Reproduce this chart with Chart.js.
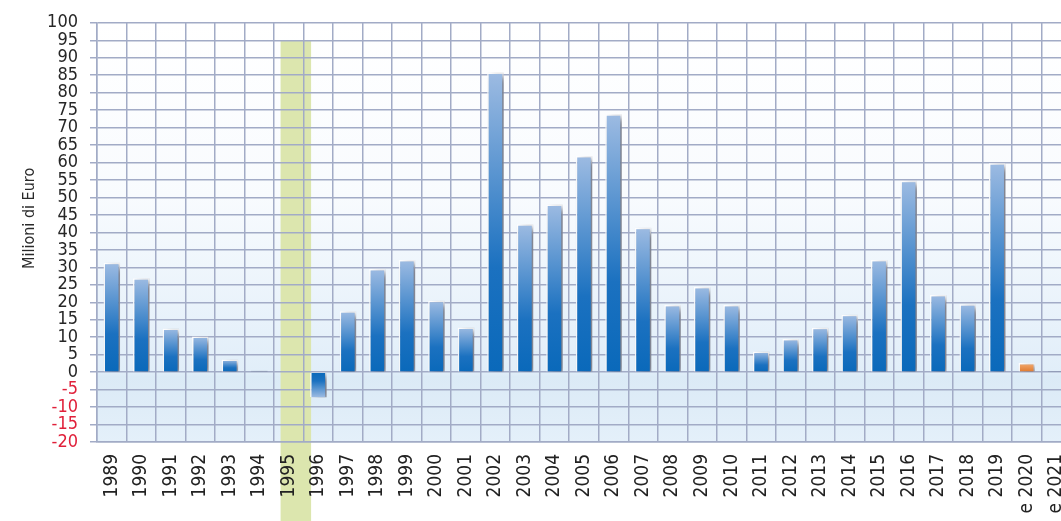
<!DOCTYPE html>
<html lang="it">
<head>
<meta charset="utf-8">
<title>Milioni di Euro 1989-2021</title>
<script src="https://cdn.jsdelivr.net/npm/chart.js@4.4.1/dist/chart.umd.min.js"></script>
<style>
  html, body { margin: 0; padding: 0; background: #ffffff; overflow: hidden; }
  canvas { display: block; }
</style>
</head>
<body>
<canvas id="saldoChart" width="1072" height="521"></canvas>
<script>
// Anni (le ultime due colonne sono stime)
const years = [
  "1989", "1990", "1991", "1992", "1993", "1994", "1995", "1996", "1997", "1998",
  "1999", "2000", "2001", "2002", "2003", "2004", "2005", "2006", "2007", "2008",
  "2009", "2010", "2011", "2012", "2013", "2014", "2015", "2016", "2017", "2018",
  "2019", "e 2020", "e 2021"
];

// Valori in milioni di euro (1995 senza dato)
const values = [
  31.3, 26.9, 12.5, 10.2, 3.6, 0.4, null, -7.2, 17.4, 29.5,
  32.1, 20.4, 12.8, 85.8, 42.3, 48.0, 61.9, 73.8, 41.3, 19.2,
  24.4, 19.2, 5.9, 9.5, 12.7, 16.4, 32.1, 54.8, 22.1, 19.4,
  59.8, 2.6, 0.3
];

// Tacche dell'asse verticale
const yMin = -20;
const yMax = 100;
const yStep = 5;

// Colonna evidenziata
const highlightYear = "1995";
const highlightTop = 95;

const axisTitle = "Milioni di Euro";

// Gradiente della barra: scuro alla base, chiaro in cima
function barFill(context) {
  const chart = context.chart;
  const yScale = chart.scales.y;
  const v = context.raw;
  const estimate = years[context.dataIndex] && years[context.dataIndex].startsWith("e ");
  const flat = estimate ? "#e8904a" : "#1f6fbb";
  if (!yScale || v === null || v === undefined) return flat;
  const base = yScale.getPixelForValue(0);
  const tip = yScale.getPixelForValue(v);
  if (!isFinite(base) || !isFinite(tip)) return flat;
  if (Math.abs(base - tip) < 2) return "#6f8098";
  const g = chart.ctx.createLinearGradient(0, base, 0, tip);
  if (estimate) {
    g.addColorStop(0, "#e0782c");
    g.addColorStop(1, "#f2ad74");
  } else {
    g.addColorStop(0, "#0a69ba");
    g.addColorStop(0.35, "#1b71c0");
    g.addColorStop(1, "#9dbbe2");
  }
  return g;
}

// Sfondo dell'area del grafico e fascia verde dietro la griglia
const backdrop = {
  id: "backdrop",
  beforeDraw(chart) {
    const { ctx, chartArea: a, scales: { x, y } } = chart;
    ctx.save();
    const zero = y.getPixelForValue(0);
    const g = ctx.createLinearGradient(0, a.top, 0, a.bottom);
    const f = (zero - a.top) / (a.bottom - a.top);
    g.addColorStop(0, "#ffffff");
    g.addColorStop(f * 0.5, "#f8fbfe");
    g.addColorStop(f, "#e1eef9");
    g.addColorStop(Math.min(1, f + 0.01), "#dbeaf6");
    g.addColorStop(1, "#e4f0fa");
    ctx.fillStyle = g;
    ctx.fillRect(a.left, a.top, a.right - a.left, a.bottom - a.top);

    const idx = years.indexOf(highlightYear);
    const w = (a.right - a.left) / years.length;
    const cx = x.getPixelForValue(idx);
    const top = y.getPixelForValue(highlightTop);
    ctx.fillStyle = "#dce6ae";
    ctx.fillRect(cx - w / 2 + w * 0.22, top, w + 1, chart.height - top);
    ctx.restore();
  },
  afterDraw(chart) {
    // titolo dell'asse verticale
    const { ctx, scales: { y } } = chart;
    ctx.save();
    ctx.translate(30, y.getPixelForValue(44));
    ctx.rotate(-Math.PI / 2);
    ctx.font = '16px "DejaVu Sans Condensed", "DejaVu Sans", sans-serif';
    ctx.fillStyle = "#2a2a2a";
    ctx.textAlign = "center";
    ctx.textBaseline = "middle";
    ctx.fillText(axisTitle, 0, 0);
    ctx.restore();
  }
};

// Ombra morbida sotto le barre
const barShadow = {
  id: "barShadow",
  beforeDatasetsDraw(chart) {
    const c = chart.ctx;
    c.save();
    c.shadowColor = "rgba(55, 60, 80, 0.7)";
    c.shadowBlur = 7;
    c.shadowOffsetX = 5;
    c.shadowOffsetY = 3;
  },
  afterDatasetsDraw(chart) {
    chart.ctx.restore();
  }
};

const gridColor = "#a2abc6";

new Chart(document.getElementById("saldoChart").getContext("2d"), {
  type: "bar",
  data: {
    labels: years,
    datasets: [
      {
        data: values,
        backgroundColor: barFill,
        borderColor: (c) => (Math.abs(c.raw || 0) < 1 ? "#6f8098" : "rgba(255,255,255,0.95)"),
        borderWidth: { left: 1.5, right: 1.5, top: 1.5, bottom: 0 },
        borderSkipped: "start",
        categoryPercentage: 1,
        barPercentage: 0.56
      }
    ]
  },
  options: {
    responsive: false,
    animation: false,
    layout: { padding: { top: 12, right: 1, left: 0, bottom: 0 } },
    plugins: {
      legend: { display: false },
      tooltip: { enabled: false }
    },
    scales: {
      x: {
        grid: { color: gridColor, lineWidth: 1.5, offset: true, drawTicks: false },
        border: { color: gridColor, width: 1.5 },
        ticks: {
          autoSkip: false,
          minRotation: 90,
          maxRotation: 90,
          padding: 12,
          color: "#222222",
          font: { family: '"DejaVu Sans Condensed", "DejaVu Sans", sans-serif', size: 19 }
        },
        afterFit(scale) {
          scale.height = 79;
          scale.paddingLeft = 0;
          scale.paddingRight = 0;
        }
      },
      y: {
        min: yMin,
        max: yMax,
        grid: { color: gridColor, lineWidth: 1.5, tickLength: 7 },
        border: { color: gridColor, width: 1.5 },
        ticks: {
          stepSize: yStep,
          autoSkip: false,
          maxTicksLimit: 40,
          padding: 12,
          color: (c) => (c.tick && c.tick.value < 0 ? "#e0203a" : "#262626"),
          font: { family: '"DejaVu Sans Condensed", "DejaVu Sans", sans-serif', size: 18 }
        },
        afterFit(scale) { scale.width = 97; }
      }
    }
  },
  plugins: [backdrop, barShadow]
});
</script>
</body>
</html>
